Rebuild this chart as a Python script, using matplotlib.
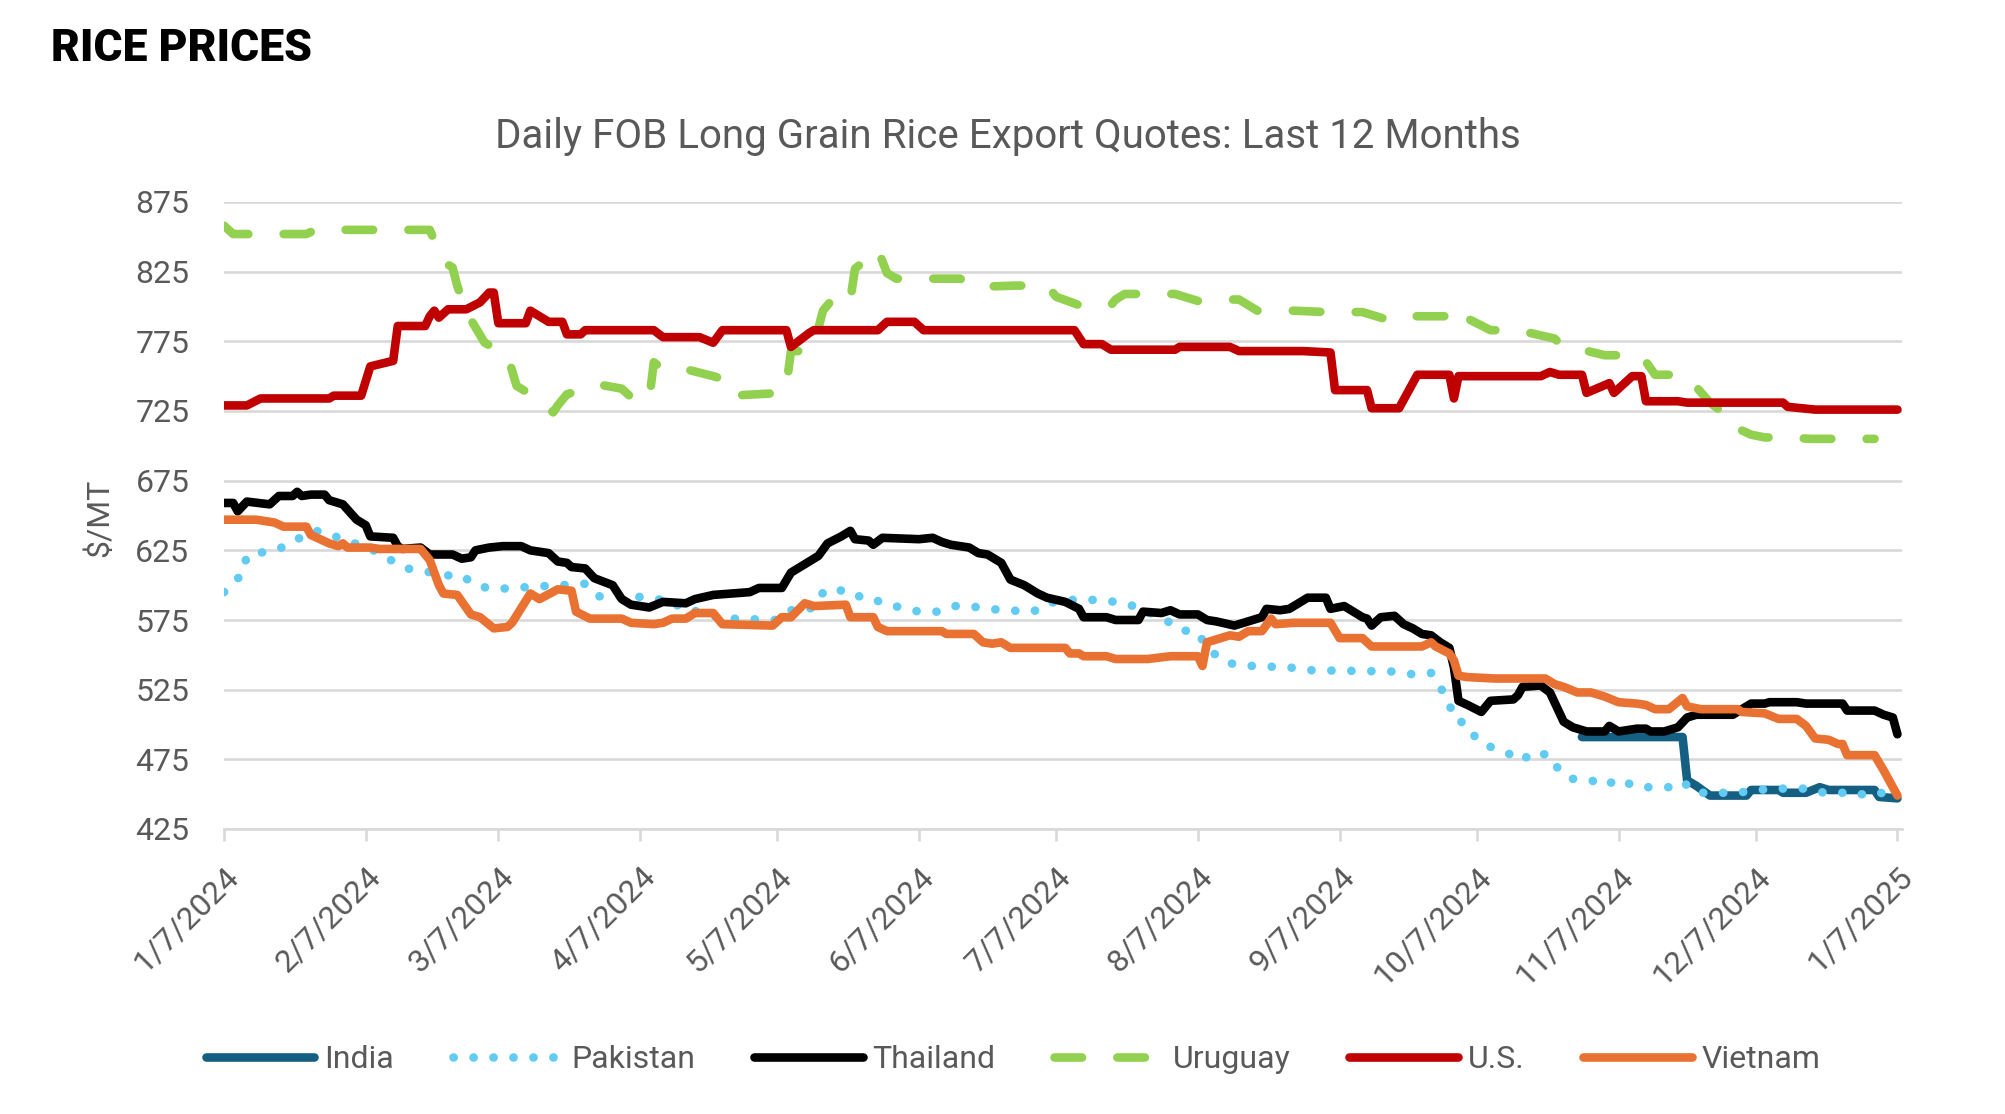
import matplotlib
matplotlib.use("Agg")
import matplotlib.pyplot as plt
import matplotlib.transforms as mtransforms
from datetime import datetime

plt.rcParams['font.family'] = ['Roboto', 'DejaVu Sans']

# ---------------- data ----------------
india_dates = ["2024-10-30", "2024-11-21", "2024-11-22", "2024-11-24", "2024-11-27", "2024-12-05",
               "2024-12-06", "2024-12-12", "2024-12-13", "2024-12-18", "2024-12-21", "2024-12-23",
               "2025-01-02", "2025-01-03", "2025-01-07"]
india_values = [491, 491, 460, 456, 449, 449, 453, 453, 451, 451, 455, 453, 453, 448, 447]

pakistan_dates = ["2024-01-07", "2024-01-11", "2024-01-12", "2024-01-16", "2024-01-19", "2024-01-23",
                  "2024-01-27", "2024-01-30", "2024-02-03", "2024-02-06", "2024-02-10", "2024-02-13",
                  "2024-02-16", "2024-02-20", "2024-02-24", "2024-02-28", "2024-03-02", "2024-03-06",
                  "2024-03-10", "2024-03-26", "2024-03-29", "2024-04-06", "2024-04-10", "2024-04-14",
                  "2024-04-16", "2024-04-20", "2024-04-23", "2024-04-27", "2024-05-07", "2024-05-10",
                  "2024-05-14", "2024-05-16", "2024-05-20", "2024-05-23", "2024-05-27", "2024-05-30",
                  "2024-06-03", "2024-06-07", "2024-06-11", "2024-06-15", "2024-06-18", "2024-06-22",
                  "2024-06-26", "2024-07-02", "2024-07-05", "2024-07-09", "2024-07-13", "2024-07-20",
                  "2024-07-24", "2024-07-31", "2024-08-03", "2024-08-07", "2024-08-09", "2024-08-12",
                  "2024-08-15", "2024-08-19", "2024-08-27", "2024-08-31", "2024-09-19", "2024-09-23",
                  "2024-09-27", "2024-09-29", "2024-10-01", "2024-10-02", "2024-10-05", "2024-10-07",
                  "2024-10-10", "2024-10-14", "2024-10-17", "2024-10-19", "2024-10-23", "2024-10-25",
                  "2024-10-28", "2024-11-01", "2024-11-04", "2024-11-07", "2024-11-11", "2024-11-18",
                  "2024-11-21", "2024-11-24", "2024-12-02", "2024-12-06", "2024-12-10", "2024-12-18",
                  "2024-12-22", "2024-12-26", "2024-12-29", "2025-01-02", "2025-01-07"]
pakistan_values = [595, 608, 621, 624, 626, 633, 639, 637, 631, 629, 623, 617,
                   612, 610, 607, 607, 600, 597, 598, 601, 592, 592, 590, 589,
                   583, 581, 578, 576, 575, 582, 582, 593, 598, 592, 592, 587,
                   584, 581, 581, 585, 585, 583, 582, 581, 587, 589, 590, 588,
                   585, 575, 568, 566, 555, 547, 543, 542, 541, 539, 538, 536,
                   537, 527, 515, 504, 500, 489, 484, 479, 474, 480, 478, 467,
                   461, 460, 456, 461, 455, 455, 459, 451, 451, 452, 454, 454,
                   451, 451, 449, 452, 448]

thailand_dates = ["2024-01-07", "2024-01-09", "2024-01-10", "2024-01-12", "2024-01-17", "2024-01-19",
                  "2024-01-22", "2024-01-23", "2024-01-24", "2024-01-26", "2024-01-29", "2024-01-30",
                  "2024-02-02", "2024-02-05", "2024-02-07", "2024-02-08", "2024-02-13", "2024-02-14",
                  "2024-02-15", "2024-02-19", "2024-02-21", "2024-02-26", "2024-02-28", "2024-03-01",
                  "2024-03-02", "2024-03-05", "2024-03-08", "2024-03-12", "2024-03-14", "2024-03-18",
                  "2024-03-20", "2024-03-22", "2024-03-23", "2024-03-26", "2024-03-28", "2024-04-01",
                  "2024-04-03", "2024-04-05", "2024-04-09", "2024-04-12", "2024-04-17", "2024-04-19",
                  "2024-04-23", "2024-04-27", "2024-05-01", "2024-05-03", "2024-05-08", "2024-05-10",
                  "2024-05-13", "2024-05-16", "2024-05-18", "2024-05-21", "2024-05-23", "2024-05-24",
                  "2024-05-27", "2024-05-28", "2024-05-30", "2024-06-07", "2024-06-10", "2024-06-12",
                  "2024-06-14", "2024-06-18", "2024-06-20", "2024-06-22", "2024-06-25", "2024-06-27",
                  "2024-06-30", "2024-07-03", "2024-07-05", "2024-07-09", "2024-07-12", "2024-07-13",
                  "2024-07-18", "2024-07-20", "2024-07-25", "2024-07-26", "2024-07-30", "2024-08-01",
                  "2024-08-03", "2024-08-07", "2024-08-09", "2024-08-11", "2024-08-15", "2024-08-18",
                  "2024-08-21", "2024-08-22", "2024-08-25", "2024-08-27", "2024-08-29", "2024-08-31",
                  "2024-09-04", "2024-09-05", "2024-09-08", "2024-09-12", "2024-09-13", "2024-09-14",
                  "2024-09-16", "2024-09-19", "2024-09-21", "2024-09-23", "2024-09-25", "2024-09-27",
                  "2024-09-29", "2024-10-01", "2024-10-02", "2024-10-03", "2024-10-05", "2024-10-08",
                  "2024-10-10", "2024-10-15", "2024-10-16", "2024-10-17", "2024-10-21", "2024-10-23",
                  "2024-10-26", "2024-10-28", "2024-10-31", "2024-11-04", "2024-11-05", "2024-11-07",
                  "2024-11-11", "2024-11-13", "2024-11-14", "2024-11-17", "2024-11-20", "2024-11-22",
                  "2024-11-24", "2024-12-02", "2024-12-04", "2024-12-06", "2024-12-09", "2024-12-10",
                  "2024-12-16", "2024-12-18", "2024-12-26", "2024-12-27", "2025-01-02", "2025-01-04",
                  "2025-01-06", "2025-01-07"]
thailand_values = [659, 659, 653, 660, 658, 664, 664, 667, 664, 665, 665, 661,
                   658, 647, 643, 635, 634, 628, 626, 627, 622, 622, 619, 620,
                   625, 627, 628, 628, 625, 623, 617, 616, 613, 612, 605, 600,
                   590, 586, 584, 588, 587, 590, 593, 594, 595, 598, 598, 609,
                   615, 621, 630, 635, 639, 633, 632, 629, 634, 633, 634, 631,
                   629, 627, 623, 622, 616, 604, 600, 594, 591, 588, 583, 577,
                   577, 575, 575, 581, 580, 582, 579, 579, 575, 574, 571, 574,
                   577, 583, 582, 583, 587, 591, 591, 583, 585, 577, 576, 571,
                   577, 578, 572, 569, 565, 564, 559, 555, 541, 517, 514, 509,
                   517, 518, 521, 527, 528, 523, 502, 498, 495, 495, 499, 495,
                   497, 497, 495, 495, 498, 505, 507, 507, 511, 515, 515, 516,
                   516, 515, 515, 510, 510, 507, 505, 493]

uruguay_dates = ["2024-01-07", "2024-01-09", "2024-01-25", "2024-01-27", "2024-02-21", "2024-02-24",
                 "2024-02-26", "2024-02-27", "2024-02-29", "2024-03-04", "2024-03-09", "2024-03-11",
                 "2024-03-16", "2024-03-19", "2024-03-20", "2024-03-22", "2024-03-29", "2024-04-03",
                 "2024-04-05", "2024-04-09", "2024-04-10", "2024-04-12", "2024-04-17", "2024-04-23",
                 "2024-04-25", "2024-04-27", "2024-05-08", "2024-05-09", "2024-05-10", "2024-05-13",
                 "2024-05-15", "2024-05-17", "2024-05-20", "2024-05-23", "2024-05-24", "2024-05-29",
                 "2024-05-31", "2024-06-02", "2024-06-16", "2024-06-19", "2024-06-28", "2024-07-05",
                 "2024-07-07", "2024-07-12", "2024-07-19", "2024-07-20", "2024-07-22", "2024-08-02",
                 "2024-08-07", "2024-08-09", "2024-08-16", "2024-08-20", "2024-08-28", "2024-09-04",
                 "2024-09-12", "2024-09-17", "2024-09-19", "2024-09-22", "2024-09-30", "2024-10-02",
                 "2024-10-04", "2024-10-10", "2024-10-16", "2024-10-24", "2024-10-26", "2024-10-30",
                 "2024-11-04", "2024-11-12", "2024-11-15", "2024-11-21", "2024-11-23", "2024-11-27",
                 "2024-11-29", "2024-11-30", "2024-12-06", "2024-12-09", "2024-12-14", "2024-12-19",
                 "2025-01-02"]
uruguay_values = [858, 852, 852, 855, 855, 832, 828, 815, 796, 774, 765, 743,
                  733, 724, 729, 737, 744, 741, 735, 733, 760, 755, 755, 750,
                  748, 736, 738, 743, 768, 768, 772, 797, 809, 805, 827, 841,
                  824, 820, 820, 814, 815, 815, 807, 801, 801, 805, 809, 809,
                  804, 805, 805, 797, 797, 796, 796, 791, 790, 793, 793, 800,
                  793, 783, 783, 777, 771, 769, 765, 765, 751, 751, 746, 731,
                  726, 717, 708, 706, 706, 705, 705]

us_dates = ["2024-01-07", "2024-01-12", "2024-01-15", "2024-01-30", "2024-01-31", "2024-02-06",
            "2024-02-08", "2024-02-13", "2024-02-14", "2024-02-20", "2024-02-21", "2024-02-22",
            "2024-02-23", "2024-02-25", "2024-02-29", "2024-03-03", "2024-03-05", "2024-03-06",
            "2024-03-07", "2024-03-13", "2024-03-14", "2024-03-18", "2024-03-21", "2024-03-22",
            "2024-03-25", "2024-03-26", "2024-04-10", "2024-04-12", "2024-04-20", "2024-04-23",
            "2024-04-25", "2024-05-09", "2024-05-10", "2024-05-14", "2024-05-15", "2024-05-29",
            "2024-05-31", "2024-06-06", "2024-06-08", "2024-07-11", "2024-07-13", "2024-07-17",
            "2024-07-19", "2024-08-02", "2024-08-03", "2024-08-14", "2024-08-16", "2024-08-30",
            "2024-09-05", "2024-09-06", "2024-09-13", "2024-09-14", "2024-09-20", "2024-09-24",
            "2024-10-01", "2024-10-02", "2024-10-03", "2024-10-21", "2024-10-23", "2024-10-25",
            "2024-10-30", "2024-10-31", "2024-11-05", "2024-11-06", "2024-11-10", "2024-11-12",
            "2024-11-13", "2024-11-20", "2024-11-22", "2024-12-13", "2024-12-14", "2024-12-20",
            "2025-01-07"]
us_values = [729, 729, 734, 734, 736, 736, 757, 761, 786, 786, 793, 797,
             792, 798, 798, 803, 810, 810, 788, 788, 797, 789, 789, 780,
             780, 783, 783, 778, 778, 774, 783, 783, 771, 781, 783, 783,
             789, 789, 783, 783, 773, 773, 769, 769, 771, 771, 768, 768,
             767, 740, 740, 727, 727, 751, 751, 734, 750, 750, 753, 751,
             751, 738, 745, 738, 750, 750, 732, 732, 731, 731, 728, 726,
             726]

vietnam_dates = ["2024-01-07", "2024-01-14", "2024-01-16", "2024-01-18", "2024-01-20", "2024-01-25",
                 "2024-01-26", "2024-01-30", "2024-02-01", "2024-02-02", "2024-02-03", "2024-02-08",
                 "2024-02-10", "2024-02-19", "2024-02-21", "2024-02-23", "2024-02-24", "2024-02-27",
                 "2024-03-01", "2024-03-03", "2024-03-06", "2024-03-09", "2024-03-10", "2024-03-14",
                 "2024-03-16", "2024-03-20", "2024-03-23", "2024-03-24", "2024-03-27", "2024-04-03",
                 "2024-04-05", "2024-04-10", "2024-04-12", "2024-04-14", "2024-04-17", "2024-04-19",
                 "2024-04-23", "2024-04-25", "2024-05-06", "2024-05-08", "2024-05-10", "2024-05-13",
                 "2024-05-15", "2024-05-22", "2024-05-23", "2024-05-28", "2024-05-29", "2024-05-31",
                 "2024-06-12", "2024-06-13", "2024-06-19", "2024-06-21", "2024-06-23", "2024-06-25",
                 "2024-06-27", "2024-07-09", "2024-07-10", "2024-07-12", "2024-07-13", "2024-07-18",
                 "2024-07-20", "2024-07-27", "2024-08-01", "2024-08-07", "2024-08-08", "2024-08-09",
                 "2024-08-11", "2024-08-14", "2024-08-16", "2024-08-18", "2024-08-21", "2024-08-23",
                 "2024-08-24", "2024-08-28", "2024-09-05", "2024-09-07", "2024-09-12", "2024-09-14",
                 "2024-09-25", "2024-09-27", "2024-09-28", "2024-10-01", "2024-10-02", "2024-10-03",
                 "2024-10-05", "2024-10-11", "2024-10-22", "2024-10-24", "2024-10-26", "2024-10-29",
                 "2024-11-01", "2024-11-04", "2024-11-07", "2024-11-11", "2024-11-13", "2024-11-15",
                 "2024-11-18", "2024-11-21", "2024-11-22", "2024-11-25", "2024-12-03", "2024-12-04",
                 "2024-12-09", "2024-12-12", "2024-12-16", "2024-12-18", "2024-12-20", "2024-12-23",
                 "2024-12-25", "2024-12-26", "2024-12-27", "2025-01-02", "2025-01-04", "2025-01-07"]
vietnam_values = [647, 647, 646, 645, 642, 642, 636, 630, 628, 630, 627, 627,
                  626, 626, 618, 600, 594, 593, 579, 577, 569, 570, 573, 594,
                  590, 597, 596, 581, 576, 576, 573, 572, 573, 576, 576, 580,
                  580, 572, 571, 577, 577, 587, 585, 586, 577, 577, 570, 567,
                  567, 565, 565, 559, 558, 559, 555, 555, 551, 551, 549, 549,
                  547, 547, 549, 549, 542, 559, 561, 564, 563, 567, 567, 576,
                  572, 573, 573, 562, 562, 556, 556, 559, 556, 551, 546, 535,
                  534, 533, 533, 529, 527, 523, 523, 520, 516, 515, 514, 511,
                  511, 519, 513, 511, 511, 509, 508, 504, 504, 499, 490, 489,
                  486, 486, 478, 478, 467, 449]

tick_dates = ["2024-01-07", "2024-02-07", "2024-03-07", "2024-04-07", "2024-05-07", "2024-06-07",
              "2024-07-07", "2024-08-07", "2024-09-07", "2024-10-07", "2024-11-07", "2024-12-07",
              "2025-01-07"]
tick_labels = ["1/7/2024", "2/7/2024", "3/7/2024", "4/7/2024", "5/7/2024", "6/7/2024",
               "7/7/2024", "8/7/2024", "9/7/2024", "10/7/2024", "11/7/2024", "12/7/2024",
               "1/7/2025"]
y_ticks = [425, 475, 525, 575, 625, 675, 725, 775, 825, 875]

# ---------------- drawing ----------------
def to_dt(lst):
    return [datetime.strptime(s, "%Y-%m-%d") for s in lst]

TXT = "#595959"
GRID = "#D9D9D9"
LW = 6.2
FS = 23

fig = plt.figure(figsize=(20.06, 11.14), dpi=100)
ax = fig.add_axes([224 / 2006, 1 - 829 / 1114, (1902 - 224) / 2006, (829 - 202) / 1114])

series = [
    ("India", india_dates, india_values, dict(color="#156082", linestyle="-")),
    ("Pakistan", pakistan_dates, pakistan_values, dict(color="#61CBF3", linestyle=(0, (0.02, 2.3)))),
    ("Thailand", thailand_dates, thailand_values, dict(color="#000000", linestyle="-")),
    ("Uruguay", uruguay_dates, uruguay_values, dict(color="#92D050", linestyle=(0, (3.2, 4.1)))),
    ("U.S.", us_dates, us_values, dict(color="#C00000", linestyle="-")),
    ("Vietnam", vietnam_dates, vietnam_values, dict(color="#E97132", linestyle="-")),
]
for name, ds, vs, st in series:
    ax.plot(to_dt(ds), vs, label=name, linewidth=LW, solid_capstyle="round",
            dash_capstyle="round", solid_joinstyle="round", dash_joinstyle="round", zorder=3, **st)

ax.set_ylim(425, 875)
ax.set_yticks(y_ticks)
ax.set_xlim(datetime(2024, 1, 7), datetime(2025, 1, 8))
ax.set_xticks(to_dt(tick_dates))
ax.set_xticklabels(tick_labels, rotation=45, ha="right", va="top", rotation_mode="anchor")
shift = mtransforms.ScaledTranslation(7 / 72, 0, fig.dpi_scale_trans)
for lab in ax.get_xticklabels():
    lab.set_transform(lab.get_transform() + shift)

ax.grid(axis="y", color=GRID, linewidth=1.9, zorder=0)
for s in ["top", "right", "left"]:
    ax.spines[s].set_visible(False)
ax.spines["bottom"].set_color(GRID)
ax.spines["bottom"].set_linewidth(1.9)
ax.tick_params(axis="y", length=0, pad=25, labelsize=FS, labelcolor=TXT)
ax.tick_params(axis="x", length=8.5, width=1.9, color=GRID, pad=15, labelsize=FS, labelcolor=TXT)

fig.text(100 / 2006, 1 - 518 / 1114, "$/MT", rotation=90, ha="center", va="center", fontsize=FS, color=TXT)
fig.text(0.5025, 1 - 136 / 1114, "Daily FOB Long Grain Rice Export Quotes: Last 12 Months",
         ha="center", va="center", fontsize=29, color=TXT)
fig.text(51 / 2006, 1 - 49 / 1114, "RICE PRICES", ha="left", va="center", fontsize=32,
         fontweight=900, color="black")

fig.legend(loc="center", bbox_to_anchor=(0.505, 1 - 1060 / 1114), ncol=6, frameon=False,
           fontsize=FS, labelcolor=TXT, handlelength=3.4, handletextpad=0.3, columnspacing=1.85)

fig.savefig("out.png", dpi=100)
